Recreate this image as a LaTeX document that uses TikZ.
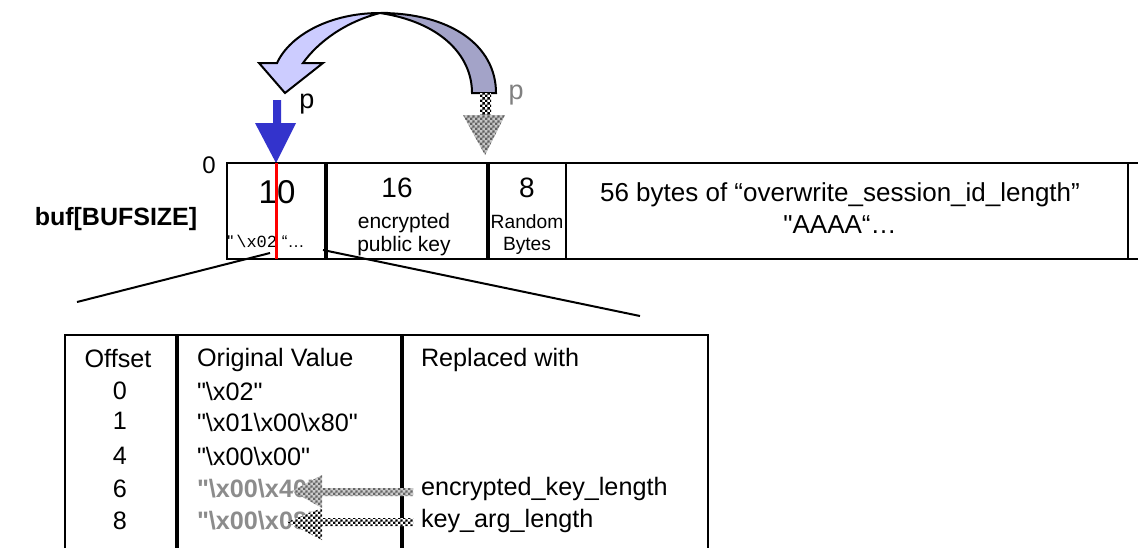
\documentclass[tikz,border=0pt]{standalone}
\usepackage{fontspec}
\setmainfont{Liberation Sans}
\newfontfamily\codefont{Liberation Mono}
\usetikzlibrary{patterns}

\definecolor{ptrblue}{HTML}{3333CC}
\definecolor{arclight}{HTML}{CCCCFF}
\definecolor{arcdark}{HTML}{A3A3C8}
\definecolor{valgray}{HTML}{8C8C8C}

\pgfdeclarepatternformonly{finechecker}{\pgfpointorigin}{\pgfqpoint{2.4pt}{2.4pt}}{\pgfqpoint{2.4pt}{2.4pt}}{
  \pgfpathrectangle{\pgfpointorigin}{\pgfqpoint{1.2pt}{1.2pt}}
  \pgfpathrectangle{\pgfqpoint{1.2pt}{1.2pt}}{\pgfqpoint{1.2pt}{1.2pt}}
  \pgfusepath{fill}
}
\newcommand{\dq}{\textquotedbl}
\newcommand{\bs}{\textbackslash}

\tikzset{
  bignum/.style={font=\fontsize{14}{16}\selectfont},
  cellsmall/.style={font=\fontsize{10.5}{11.5}\selectfont, align=center, inner sep=0pt},
  celltext/.style={font=\fontsize{13}{16}\selectfont, align=center},
  tabtext/.style={font=\fontsize{12.6}{14}\selectfont, inner sep=0pt},
  graytext/.style={tabtext, anchor=west, font=\bfseries\fontsize{12.6}{14}\selectfont, text=valgray},
  ptrlabel/.style={font=\fontsize{13.5}{15}\selectfont},
  checker/.style={pattern=finechecker, pattern color=black},
}

\begin{document}
\begin{tikzpicture}[x=0.5pt, y=-0.5pt, line width=1pt]
\useasboundingbox (0,0) rectangle (1138,548);

% curved arrow moving p
\filldraw[fill=arclight] (380,13) .. controls (330,13) and (290,35) .. (277,63)
  -- (259,63) -- (285,93) -- (323,63) -- (303,63)
  .. controls (318,42) and (345,22) .. (380,13) -- cycle;
\filldraw[fill=arcdark] (380,13) .. controls (450,13) and (496,45) .. (496,93)
  -- (472,93) .. controls (472,55) and (440,22) .. (380,13) -- cycle;

% old p (checkered)
\fill[preaction={fill=white}, checker] (480,93) rectangle (491,115);
\fill[preaction={fill=gray!45}, pattern=finechecker, pattern color=gray!75!black]
  (463,115) -- (505,115) -- (485,155) -- cycle;
\node[ptrlabel, text=gray] (pold) at (516,95) {p};

% new p
\fill[ptrblue] (273,100) -- (281,100) -- (281,123) -- (296,123) -- (276,163)
  -- (255,123) -- (273,123) -- cycle;
\node[ptrlabel] (pnew) at (307,104) {p};

% buffer
\node[font=\fontsize{12}{13}\selectfont] (zero) at (209,165) {0};
\node[font=\bfseries\fontsize{12.5}{14}\selectfont] (buf) at (116,219) {buf[BUFSIZE]};
\draw (1138,163) -- (227,163) -- (227,259) -- (1138,259);
\draw[line width=2pt] (326,163) -- (326,259) (488,163) -- (488,259);
\draw (566,163) -- (566,259) (1128,163) -- (1128,259);

\node[font=\fontsize{16.5}{18}\selectfont] (c1) at (277,192) {10};
\node[cellsmall, font=\fontsize{8.5}{10}\selectfont] (c1b) at (266,241)
  {\dq\,{\codefont\bs x02} “\ldots};
\node[bignum] (c2) at (397,188) {16};
\node[cellsmall] (c2b) at (404,235) {encrypted\\public key};
\node[bignum] (c3) at (527,188) {8};
\node[cellsmall, font=\fontsize{9.6}{11}\selectfont] (c3b) at (527,235) {Random\\Bytes};
\node[celltext] (c4) at (840,208)
  {56 bytes of “overwrite\_session\_id\_length”\\\dq AAAA“\ldots};

\draw[red, line width=1.5pt] (276,163) -- (276,259);

% zoom lines to the table
\coordinate (fanl) at (270,253);
\coordinate (fanr) at (323,250);
\coordinate (tabl) at (77,302);
\coordinate (tabr) at (640,316);
\draw (fanl) -- (tabl) (fanr) -- (tabr);

% table
\draw (65,548) -- (65,335) -- (708,335) -- (708,548);
\draw[line width=2pt] (177,335) -- (177,548) (402,335) -- (402,548);

\node[tabtext] (hoff) at (118,358) {Offset};
\node[tabtext, anchor=west] (horig) at (196,360) {Original Value};
\node[tabtext, anchor=west] (hrepl) at (420,360) {Replaced with};

\node[tabtext] (o0) at (120,391) {0};
\node[tabtext] (o1) at (120,421) {1};
\node[tabtext] (o4) at (120,456) {4};
\node[tabtext] (o6) at (120,489) {6};
\node[tabtext] (o8) at (120,521) {8};

\node[tabtext, anchor=west] (v0) at (196,391) {\dq\bs x02\dq};
\node[tabtext, anchor=west] (v1) at (196,422) {\dq\bs x01\bs x00\bs x80\dq};
\node[tabtext, anchor=west] (v4) at (196,456) {\dq\bs x00\bs x00\dq};
\node[graytext] (v6) at (196,489) {\dq\bs x00\bs x40\dq};
\node[graytext] (v8) at (196,521) {\dq\bs x00\bs x08\dq};

\node[tabtext, anchor=west] (r6) at (420,489) {encrypted\_key\_length};
\node[tabtext, anchor=west] (r8) at (420,521) {key\_arg\_length};

% replacement arrows
\fill[preaction={fill=gray!40}, pattern=finechecker, pattern color=gray!80!black]
  (413,488) -- (322,488) -- (322,475) -- (292,491) -- (322,508) -- (322,496)
  -- (413,496) -- cycle;
\fill[preaction={fill=white}, checker]
  (413,518) -- (322,518) -- (322,508) -- (287,522) -- (322,540) -- (322,526)
  -- (413,526) -- cycle;
\end{tikzpicture}
\end{document}
